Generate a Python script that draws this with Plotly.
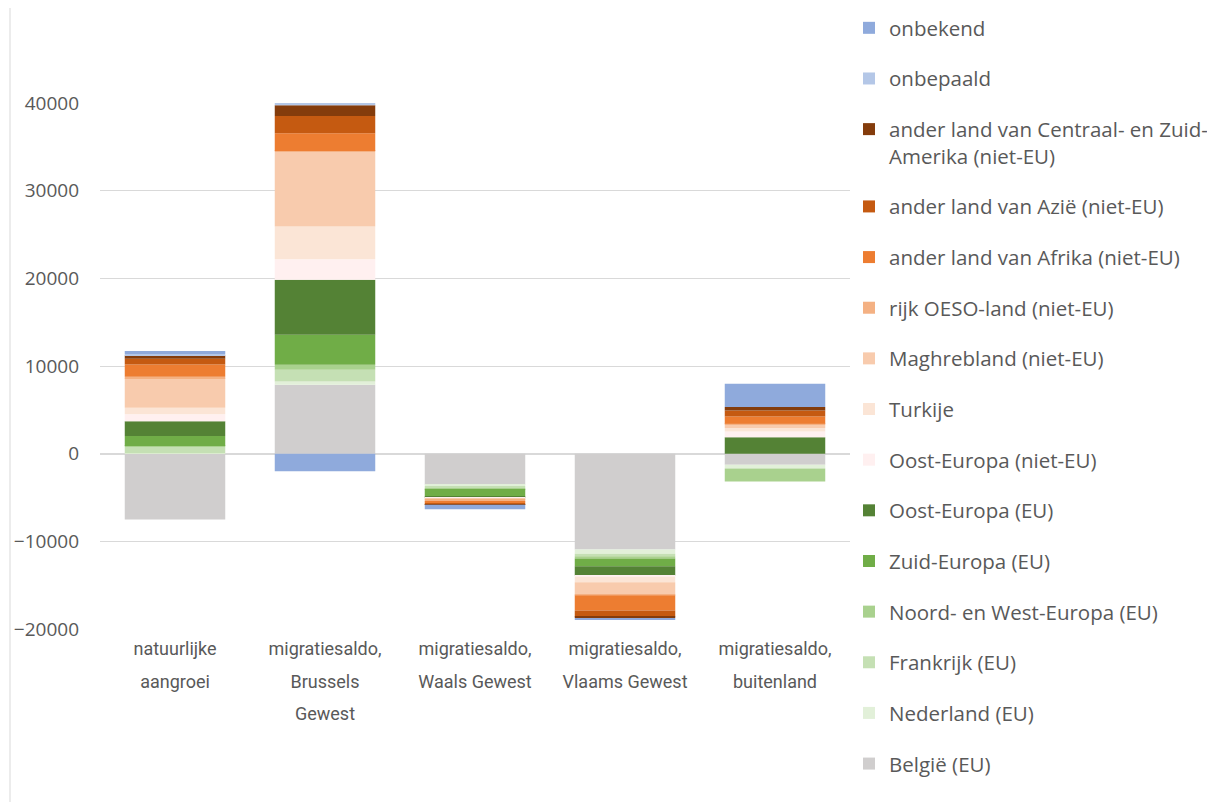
import plotly.graph_objects as go

categories = ["natuurlijke aangroei", "migratiesaldo, Brussels Gewest",
              "migratiesaldo, Waals Gewest", "migratiesaldo, Vlaams Gewest",
              "migratiesaldo, buitenland"]
tick_lines = [["natuurlijke", "aangroei"], ["migratiesaldo,", "Brussels", "Gewest"],
              ["migratiesaldo,", "Waals Gewest"], ["migratiesaldo,", "Vlaams Gewest"],
              ["migratiesaldo,", "buitenland"]]

# series in stacking order (bottom first)
belgie = [-7500, 7860, -3530, -10940, -1250]
nederland = [60, 380, -150, -490, -450]
frankrijk = [700, 1330, -300, -270, 0]
noord_west = [120, 570, -60, -270, -1480]
zuid_europa = [1140, 3420, -850, -870, 0]
oost_eu = [1670, 6270, -150, -1060, 1860]
oost_niet_eu = [800, 2360, -60, -150, 680]
turkije = [760, 3720, -60, -610, 380]
maghreb = [3340, 8510, -120, -1410, 380]
rijk_oeso = [190, 110, -150, -100, 100]
afrika = [1400, 2010, -200, -1710, 850]
azie = [650, 1980, -150, -680, 680]
centraal_zuid_am = [380, 1220, -40, -190, 380]
onbepaald = [150, 300, 0, 0, 0]
onbekend = [340, -2000, -530, -110, 2660]

series_names = ["België (EU)", "Nederland (EU)", "Frankrijk (EU)", "Noord- en West-Europa (EU)",
                "Zuid-Europa (EU)", "Oost-Europa (EU)", "Oost-Europa (niet-EU)", "Turkije",
                "Maghrebland (niet-EU)", "rijk OESO-land (niet-EU)", "ander land van Afrika (niet-EU)",
                "ander land van Azië (niet-EU)", "ander land van Centraal- en Zuid-<br>Amerika (niet-EU)",
                "onbepaald", "onbekend"]
series_values = [belgie, nederland, frankrijk, noord_west, zuid_europa, oost_eu, oost_niet_eu,
                 turkije, maghreb, rijk_oeso, afrika, azie, centraal_zuid_am, onbepaald, onbekend]
colors = ["#D0CECE", "#E2F0D9", "#C5E0B4", "#A9D18E", "#70AD47", "#548235", "#FFF0F0",
          "#FBE5D6", "#F8CBAD", "#F4B183", "#ED7D31", "#C55A11", "#843C0C", "#B4C7E7", "#8FAADC"]

tick_labels = ["<br>".join(f"<span style='font-size:18px'>{ln}</span>" for ln in lines)
               for lines in tick_lines]

n = len(series_names)
fig = go.Figure()
for i, (name, vals, col) in enumerate(zip(series_names, series_values, colors)):
    fig.add_trace(go.Bar(x=categories, y=vals, name=name, marker_color=col,
                         marker_line_width=0, legendgroup=f"g{i}", legendrank=n - i))

fig.update_layout(
    width=1207, height=794,
    barmode="relative", bargap=0.33,
    plot_bgcolor="white", paper_bgcolor="white",
    margin=dict(l=92, r=365, t=95, b=173, autoexpand=False),
    font=dict(family="Open Sans", size=20, color="#595959"),
    showlegend=True,
    legend=dict(x=0.9987, xanchor="left", yref="container", y=1.0, yanchor="top",
                traceorder="grouped", tracegroupgap=21, valign="top", maxheight=1,
                font=dict(family="Open Sans", size=20.5, color="#595959"), itemwidth=30,
                bgcolor="rgba(0,0,0,0)"),
    xaxis=dict(tickmode="array", tickvals=categories, ticktext=tick_labels,
               showgrid=False, showline=False, ticks="", automargin=False,
               tickfont=dict(family="Roboto", size=25, color="#595959")),
    yaxis=dict(range=[-20000, 40000], dtick=10000, showgrid=True, gridcolor="#D9D9D9",
               gridwidth=1, zeroline=True, zerolinecolor="#D9D9D9", zerolinewidth=2,
               showline=False, ticks="", tickformat="d", ticklabelstandoff=20, automargin=False,
               tickfont=dict(family="Open Sans", size=19, color="#595959")),
    shapes=[dict(type="rect", xref="paper", yref="paper",
                 x0=-90 / 750, x1=1210 / 750, y0=-175 / 526, y1=(526 + 98) / 526,
                 line=dict(color="#D9D9D9", width=1), fillcolor="rgba(0,0,0,0)", layer="below")],
)

fig.write_html("out.html")
